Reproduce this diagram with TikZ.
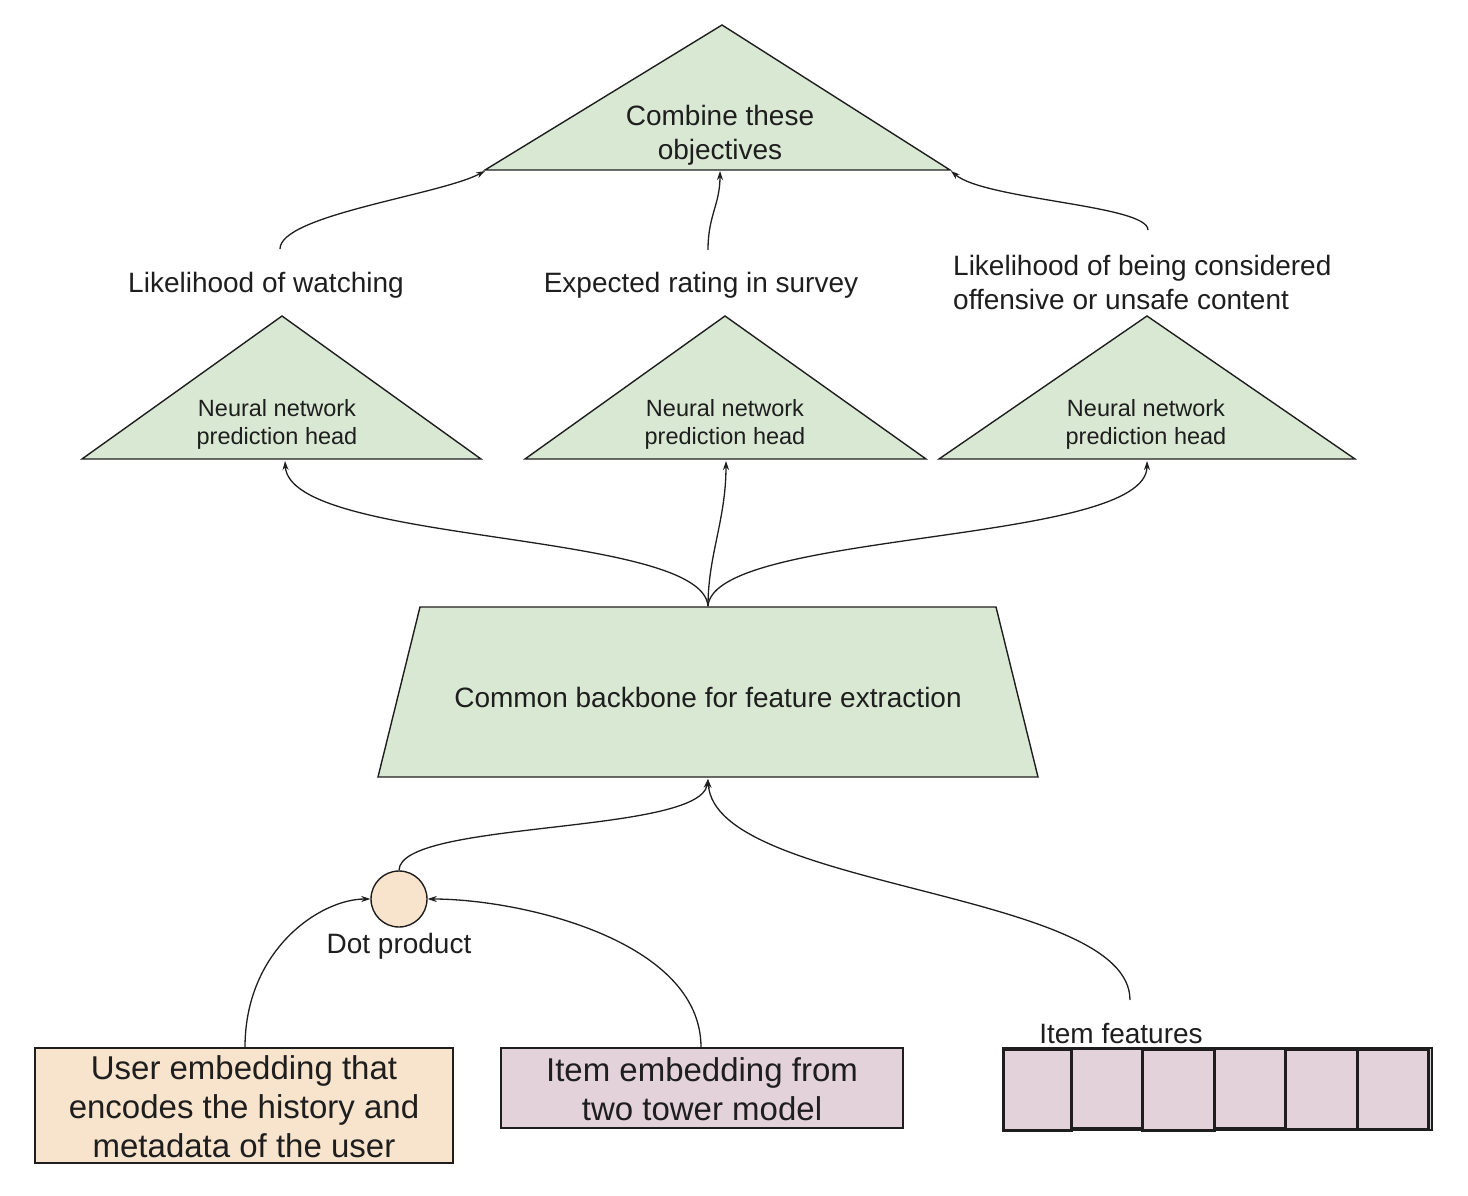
\documentclass[tikz,border=0pt]{standalone}
\usepackage{fontspec}
\setmainfont{Liberation Sans}
\usetikzlibrary{arrows.meta}
\definecolor{gfill}{HTML}{D9E8D3}
\definecolor{pfill}{HTML}{F8E3CC}
\definecolor{lfill}{HTML}{E4D2DB}
\definecolor{ink}{HTML}{1E1E1E}
\tikzset{
  shapeline/.style={draw=ink, line width=1.4pt, line join=miter},
  conn/.style={draw=ink, line width=1.3pt, -{Stealth[length=9pt,width=6pt]}},
  bigtxt/.style={text=ink, inner sep=0pt, align=center, font=\fontsize{28}{34}\selectfont},
  midtxt/.style={text=ink, inner sep=0pt, align=center, font=\fontsize{23.5}{28}\selectfont},
  boxtxt/.style={text=ink, inner sep=0pt, align=center, font=\fontsize{33}{39}\selectfont},
  featbox/.style={draw=ink, line width=3pt, fill=lfill},
}
\begin{document}
\begin{tikzpicture}[x=1pt, y=-1pt]
\useasboundingbox (0,0) rectangle (1468,1196);
% top triangle
\draw[shapeline, fill=gfill] (722,25) -- (950,170) -- (485,170) -- cycle;
\coordinate (topL) at (485,171);
\coordinate (topM) at (720,171);
\coordinate (topR) at (951,171);
\node[bigtxt] (combine) at (720,135) {Combine these\\objectives};
% labels
\node[bigtxt] (watch) at (266,285) {Likelihood of watching};
\node[bigtxt] (rating) at (701,285) {Expected rating in survey};
\node[bigtxt, align=left, anchor=west] (offensive) at (953,282) {Likelihood of being considered\\offensive or unsafe content};
\coordinate (watchTop) at (280,249);
\coordinate (ratingTop) at (708,250);
\coordinate (offTop) at (1148,230);
% head triangles
\draw[shapeline, fill=gfill] (282,316) -- (481,459) -- (82,459) -- cycle;
\draw[shapeline, fill=gfill] (725,316) -- (926,459) -- (525,459) -- cycle;
\draw[shapeline, fill=gfill] (1147,316) -- (1355,459) -- (939,459) -- cycle;
\coordinate (headL) at (285,461);
\coordinate (headM) at (726,461);
\coordinate (headR) at (1147,461);
\node[midtxt] (nnL) at (277,424) {Neural network\\prediction head};
\node[midtxt] (nnM) at (725,424) {Neural network\\prediction head};
\node[midtxt] (nnR) at (1146,424) {Neural network\\prediction head};
% backbone
\draw[shapeline, fill=gfill] (420,607) -- (996,607) -- (1038,777) -- (378,777) -- cycle;
\coordinate (bbTop) at (708,606);
\coordinate (bbBot) at (708,779);
\node[bigtxt] (backbone) at (708,697) {Common backbone for feature extraction};
% dot product
\node[circle, shapeline, fill=pfill, minimum size=56pt, inner sep=0pt] (dot) at (399,899) {};
\node[bigtxt] (dotlbl) at (399,946) {Dot product};
% user embedding
\node[shapeline, fill=pfill, minimum width=418pt, minimum height=115pt, inner sep=0pt] (user) at (244,1105.5) {};
\node[boxtxt] (usertxt) at (244,1107) {User embedding that\\encodes the history and\\metadata of the user};
% item embedding
\node[shapeline, fill=lfill, minimum width=402pt, minimum height=80pt, inner sep=0pt] (item) at (702,1088) {};
\node[boxtxt] (itemtxt) at (702,1089) {Item embedding from\\two tower model};
% item features
\draw[draw=ink, line width=1.4pt, fill=lfill] (1003,1048) rectangle (1432,1130);
\draw[featbox] (1003,1049) rectangle (1071,1130);
\draw[featbox] (1071,1048) rectangle (1142,1128);
\draw[featbox] (1142,1049) rectangle (1214,1130);
\draw[featbox] (1214,1048) rectangle (1285,1128);
\draw[featbox] (1285,1049) rectangle (1357,1129);
\draw[featbox] (1357,1049) rectangle (1428,1129);
\node[bigtxt] (featlbl) at (1121,1033) {Item features};
\coordinate (featTop) at (1130,1000);
% connectors
\draw[conn] (watchTop) .. controls (280,215) and (440,195) .. (topL);
\draw[conn] (ratingTop) .. controls (708,215) and (720,205) .. (topM);
\draw[conn] (offTop) .. controls (1148,205) and (985,200) .. (topR);
\draw[conn] (bbTop) .. controls (702,530) and (290,545) .. (headL);
\draw[conn] (bbTop) .. controls (708,555) and (726,520) .. (headM);
\draw[conn] (bbTop) .. controls (714,530) and (1147,545) .. (headR);
\draw[conn] (dot.north) .. controls (400,820) and (700,835) .. (bbBot);
\draw[conn] (featTop) .. controls (1130,890) and (715,890) .. (bbBot);
\draw[conn] (user.north -| 245,0) .. controls (245,950) and (320,899) .. (dot.west);
\draw[conn] (item.north -| 701,0) .. controls (701,940) and (520,899) .. (dot.east);
\end{tikzpicture}
\end{document}
